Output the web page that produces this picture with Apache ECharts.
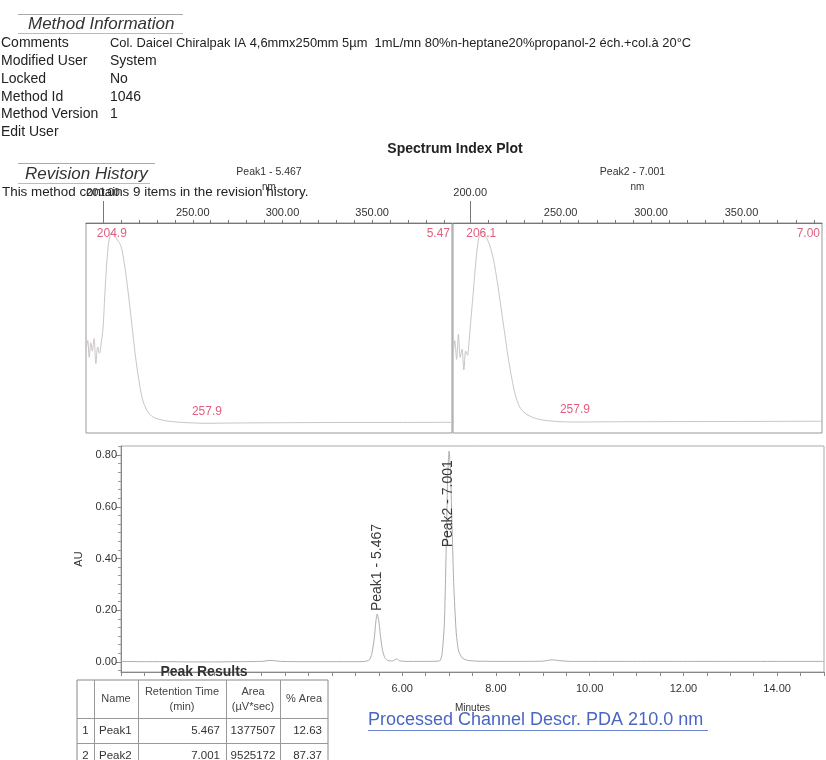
<!DOCTYPE html>
<html><head><meta charset="utf-8">
<script src="https://cdn.jsdelivr.net/npm/echarts@6/dist/echarts.min.js"></script>
<style>html,body{margin:0;padding:0;background:#fff}#c{width:826px;height:760px}</style>
</head><body><div id="c"></div>
<script>
// ---------------- data ----------------
const methodLabels = ['Comments', 'Modified User', 'Locked', 'Method Id', 'Method Version', 'Edit User'];
const methodValues = ['Col. Daicel Chiralpak IA 4,6mmx250mm 5µm  1mL/mn 80%n-heptane20%propanol-2 éch.+col.à 20°C', 'System', 'No', '1046', '1', ''];
const revisionText = 'This method contains 9 items in the revision history.';
const spectrumTitles = ['Peak1 - 5.467', 'Peak2 - 7.001'];
const spectrumCornerLabels = ['5.47', '7.00'];
// spectrum 1 (Peak1) [nm, relative absorbance]
const spectrum1 = [[190.6,0.40],[191.5,0.44],[192.3,0.36],[193.2,0.43],[194,0.39],[195,0.45],[196,0.33],[197,0.41],[198,0.38],[199,0.43],[200,0.50],[201,0.66],[202,0.80],[203,0.90],[204,0.945],[204.9,0.955],[206,0.95],[207,0.935],[208,0.92],[210,0.89],[212,0.80],[214,0.67],[216,0.52],[218,0.37],[220,0.25],[222,0.16],[224,0.115],[226,0.09],[228,0.075],[231,0.066],[235,0.058],[240,0.053],[245,0.05],[250,0.048],[257.9,0.046],[265,0.047],[280,0.048],[300,0.049],[330,0.05],[360,0.05],[394.5,0.051]];
const spectrum1Marks = [[204.9,0.955,'204.9'],[257.9,0.046,'257.9']];
// spectrum 2 (Peak2)
const spectrum2 = [[190.6,0.38],[191.5,0.44],[192.5,0.35],[193.5,0.47],[194.5,0.36],[195.5,0.40],[196.5,0.30],[197.5,0.39],[198.5,0.37],[199.5,0.45],[200.5,0.55],[202,0.70],[203.5,0.85],[205,0.94],[206.1,0.955],[207.5,0.95],[209,0.93],[211,0.89],[213,0.82],[215,0.72],[217,0.60],[219,0.48],[221,0.36],[223,0.26],[225,0.18],[227,0.13],[229,0.105],[232,0.085],[236,0.07],[240,0.062],[245,0.057],[250,0.054],[257.9,0.052],[270,0.053],[300,0.054],[350,0.055],[394.5,0.056]];
const spectrum2Marks = [[206.1,0.955,'206.1'],[257.9,0.052,'257.9']];
const nmLabels = [200, 250, 300, 350];
const nmLongTick = 200;
const nmTicks = [200,210,220,230,240,250,260,270,280,290,300,310,320,330,340,350,360,370,380,390];
// chromatogram [min, AU]
const chromData = [[0,0.002],[0.5,0.001],[1,0.001],[1.5,0.0],[2,0.0],[2.5,0.001],[3.0,0.002],[3.2,0.006],[3.4,0.002],[4,0.001],[4.5,0.001],[5.0,0.001],[5.2,0.002],[5.3,0.008],[5.35,0.03],[5.4,0.085],[5.44,0.16],[5.467,0.185],[5.5,0.16],[5.54,0.095],[5.58,0.045],[5.63,0.016],[5.7,0.005],[5.8,0.004],[5.88,0.012],[5.95,0.004],[6.1,0.002],[6.5,0.002],[6.8,0.004],[6.85,0.03],[6.9,0.15],[6.94,0.45],[6.97,0.72],[7.001,0.815],[7.03,0.74],[7.06,0.55],[7.1,0.30],[7.15,0.12],[7.2,0.045],[7.28,0.015],[7.4,0.006],[7.6,0.003],[8,0.002],[8.5,0.002],[9,0.003],[9.2,0.008],[9.35,0.005],[9.6,0.002],[10,0.002],[11,0.002],[12,0.002],[13,0.002],[14,0.002],[15,0.002]];
const peakNames = ['Peak1', 'Peak2'];
const peakRT = [5.467, 7.001];
const peakHeight = [0.185, 0.815];
const peakArea = [1377507, 9525172];
const peakPctArea = [12.63, 87.37];
const auLabels = [0, 0.2, 0.4, 0.6, 0.8];
const auMinorTicks = [-0.0333,0.0333,0.0667,0.1,0.1333,0.1667,0.2333,0.2667,0.3,0.3333,0.3667,0.4333,0.4667,0.5,0.5333,0.5667,0.6333,0.6667,0.7,0.7333,0.7667,0.8333];
const minuteLabels = [6, 8, 10, 12, 14];
const minuteTicks = [0,0.5,1,1.5,2,2.5,3,3.5,4,4.5,5,5.5,6,6.5,7,7.5,8,8.5,9,9.5,10,10.5,11,11.5,12,12.5,13,13.5,14,14.5,15];
const tableHeaders = ['', 'Name', 'Retention Time\n(min)', 'Area\n(µV*sec)', '% Area'];
const channelText = 'Processed Channel Descr. PDA 210.0 nm';

// ---------------- layout ----------------
const FONT = '"Liberation Sans", Arial, Helvetica, sans-serif';
const PINK = '#e0607e';
const SPEC_LINE = '#cbc4c8';
const G1 = {left: 86, top: 223, width: 366, height: 210};
const G2 = {left: 453, top: 223, width: 369, height: 210};
const G3 = {left: 121, top: 446, width: 703, height: 226};

const chart = echarts.init(document.getElementById('c'), null, {renderer: 'canvas', width: 826, height: 760});

const g = [];
function txt(text, x, y, size, o) {
  o = o || {};
  const font = (o.italic ? 'italic ' : '') + (o.bold ? 'bold ' : '') + size + 'px ' + FONT;
  g.push({type: 'text', z: o.z || 100, silent: true,
    style: {text: text, x: x, y: y, font: font, fill: o.color || '#222',
      align: o.align || 'left', textAlign: o.align || 'left',
      verticalAlign: o.va || 'middle', textVerticalAlign: o.va || 'middle',
      lineHeight: o.lh || size + 2}});
}
function ln(x1, y1, x2, y2, color, z) {
  g.push({type: 'line', z: z || 100, silent: true, shape: {x1: x1, y1: y1, x2: x2, y2: y2}, style: {stroke: color || '#999', lineWidth: 1}});
}
function rc(x, y, w, h, fill, stroke, z) {
  g.push({type: 'rect', z: z || 100, silent: true, shape: {x: x, y: y, width: w, height: h}, style: {fill: fill || 'none', stroke: stroke || 'none', lineWidth: 1}});
}

// header block
ln(18, 14.5, 183, 14.5, '#aaa');
txt('Method Information', 28, 24, 17, {italic: true, color: '#333'});
ln(18, 33.5, 183, 33.5, '#bbb');
methodLabels.forEach(function (l, i) {
  const y = 43 + i * 17.9;
  txt(l, 1, y, 14, {color: '#222'});
  txt(methodValues[i], 110, y, i === 0 ? 12.9 : 14, {color: '#222'});
});
txt('Spectrum Index Plot', G2.left + 2, 149, 14, {bold: true, align: 'center', color: '#222'});
ln(18, 163.5, 155, 163.5, '#aaa');
txt('Revision History', 25, 174, 17, {italic: true, color: '#333'});
ln(18, 183.5, 150, 183.5, '#bbb');
txt(revisionText, 2, 192, 13.4, {color: '#222'});
txt(spectrumTitles[0], G1.left + G1.width / 2, 172, 10.5, {align: 'center', color: '#333'});
txt(spectrumTitles[1], G2.left + G2.width / 2 - 5, 172, 10.5, {align: 'center', color: '#333'});
txt(spectrumCornerLabels[0], G1.left + G1.width - 2, G1.top + 11, 12, {align: 'right', color: PINK});
txt(spectrumCornerLabels[1], G2.left + G2.width - 2, G2.top + 11, 12, {align: 'right', color: PINK});

// Peak results table
const colX = [77, 94, 138, 226, 280, 328];
const rowY = [680, 718, 743, 768];
txt('Peak Results', 204, 672, 14, {bold: true, align: 'center', color: '#333', z: 121});
rc(colX[0], rowY[0], colX[5] - colX[0], rowY[3] - rowY[0], '#fff', '#888', 110);
colX.slice(1, 5).forEach(function (x) { ln(x + 0.5, rowY[0], x + 0.5, rowY[3], '#999', 111); });
rowY.slice(1, 3).forEach(function (y) { ln(colX[0], y + 0.5, colX[5], y + 0.5, '#999', 111); });
tableHeaders.forEach(function (h, c) {
  if (h) txt(h, (colX[c] + colX[c + 1]) / 2, (rowY[0] + rowY[1]) / 2, 11, {align: 'center', color: '#444', lh: 15, z: 120});
});
peakNames.forEach(function (n, r) {
  const y = (rowY[r + 1] + rowY[r + 2]) / 2;
  txt(String(r + 1), (colX[0] + colX[1]) / 2, y, 11.5, {align: 'center', color: '#333', z: 120});
  txt(n, colX[1] + 5, y, 11.5, {color: '#333', z: 120});
  txt(peakRT[r].toFixed(3), colX[3] - 6, y, 11.5, {align: 'right', color: '#333', z: 120});
  txt(String(peakArea[r]), (colX[3] + colX[4]) / 2, y, 11.5, {align: 'center', color: '#333', z: 120});
  txt(peakPctArea[r].toFixed(2), colX[5] - 6, y, 11.5, {align: 'right', color: '#333', z: 120});
});
// channel description
txt(channelText, 368, 720, 18, {color: '#4a66c4'});
ln(368, 730.5, 708, 730.5, '#6a82d0');

// ---------------- axes ----------------
function specX(gridIndex) {
  return {
    type: 'value', gridIndex: gridIndex, position: 'top', min: 190.5, max: 394.5,
    name: 'nm', nameLocation: 'middle', nameGap: 31, nameMoveOverlap: false,
    nameTextStyle: {fontSize: 10, color: '#333', fontFamily: FONT},
    axisLine: {show: true, onZero: false, lineStyle: {color: '#777'}},
    axisTick: {show: true, inside: false, length: 3, customValues: nmTicks, lineStyle: {color: '#777'}},
    axisLabel: {show: true, customValues: nmLabels, margin: 5, fontSize: 11, color: '#333', fontFamily: FONT,
      formatter: function (v) { return v === nmLongTick ? '{hi|' + v.toFixed(2) + '}' : v.toFixed(2); },
      rich: {hi: {fontSize: 11, color: '#333', fontFamily: FONT, padding: [0, 0, 20, 0]}}},
    splitLine: {show: false}
  };
}
const xAxes = [specX(0), specX(1), {
  type: 'value', gridIndex: 2, min: 0, max: 15,
  name: 'Minutes', nameLocation: 'middle', nameGap: 31, nameMoveOverlap: false,
  nameTextStyle: {fontSize: 10, color: '#333', fontFamily: FONT},
  axisLine: {show: true, onZero: false, lineStyle: {color: '#888'}},
  axisTick: {show: true, length: 4, customValues: minuteTicks, lineStyle: {color: '#888'}},
  axisLabel: {show: true, customValues: minuteLabels, margin: 11, fontSize: 11, color: '#333', fontFamily: FONT, formatter: function (v) { return v.toFixed(2); }},
  splitLine: {show: false}
}];
const yAxes = [
  {type: 'value', gridIndex: 0, min: 0, max: 1, show: false},
  {type: 'value', gridIndex: 1, min: 0, max: 1, show: false},
  {type: 'value', gridIndex: 2, min: -0.039, max: 0.835,
    name: 'AU', nameLocation: 'middle', nameGap: 37, nameMoveOverlap: false,
    nameTextStyle: {fontSize: 11, color: '#333', fontFamily: FONT},
    axisLine: {show: true, onZero: false, lineStyle: {color: '#888'}},
    axisTick: {show: true, length: 5, customValues: auLabels, lineStyle: {color: '#888'}},
    axisLabel: {show: true, customValues: auLabels, margin: 4, fontSize: 11, color: '#333', fontFamily: FONT, formatter: function (v) { return v.toFixed(2); }},
    splitLine: {show: false}},
  {type: 'value', gridIndex: 2, min: -0.039, max: 0.835, position: 'left',
    axisLine: {show: false, onZero: false},
    axisTick: {show: true, length: 3, customValues: auMinorTicks, lineStyle: {color: '#999'}},
    axisLabel: {show: false}, splitLine: {show: false}}
];

const HIDDEN_SYMBOL = {symbol: 'circle', symbolSize: 1, itemStyle: {color: 'rgba(0,0,0,0)'}};
function specMarks(marks) {
  return Object.assign({
    silent: true,
    label: {show: true, color: PINK, fontSize: 12, fontFamily: FONT},
    data: marks.map(function (m, i) {
      return {coord: [m[0], m[1]], value: m[2],
        label: {show: true, formatter: m[2], position: 'inside', offset: i === 0 ? [0, 1] : [0, -12]}};
    })
  }, HIDDEN_SYMBOL);
}

// rotated peak labels: offset is in the label's rotated frame ([along text, across text])
const peakMarkData = peakNames.map(function (n, i) {
  const tall = peakHeight[i] > 0.6;
  return {coord: [peakRT[i], peakHeight[i]],
    label: {show: true, formatter: n + ' - ' + peakRT[i].toFixed(3), rotate: 90,
      position: 'inside', align: tall ? 'right' : 'left', verticalAlign: 'middle',
      offset: tall ? [-9, -1] : [3, 0]}};
});

const option = {
  animation: false,
  backgroundColor: '#fff',
  textStyle: {fontFamily: FONT},
  grid: [
    Object.assign({show: true, borderColor: '#999', borderWidth: 1, containLabel: false}, G1),
    Object.assign({show: true, borderColor: '#999', borderWidth: 1, containLabel: false}, G2),
    Object.assign({show: true, borderColor: '#aaa', borderWidth: 1, containLabel: false}, G3)
  ],
  xAxis: xAxes,
  yAxis: yAxes,
  series: [
    {type: 'line', xAxisIndex: 0, yAxisIndex: 0, data: spectrum1, showSymbol: false, smooth: 0.3,
      lineStyle: {color: SPEC_LINE, width: 1}, markPoint: specMarks(spectrum1Marks)},
    {type: 'line', xAxisIndex: 1, yAxisIndex: 1, data: spectrum2, showSymbol: false, smooth: 0.3,
      lineStyle: {color: SPEC_LINE, width: 1}, markPoint: specMarks(spectrum2Marks)},
    {type: 'line', xAxisIndex: 2, yAxisIndex: 2, data: chromData, showSymbol: false, smooth: 0.2,
      lineStyle: {color: '#b0abae', width: 1},
      markPoint: Object.assign({silent: true,
        label: {show: true, color: '#3a3a3a', fontSize: 14, fontFamily: FONT}, data: peakMarkData}, HIDDEN_SYMBOL)}
  ],
  graphic: g
};
chart.setOption(option);

// long tick at 200 nm on each spectrum axis (position from the axis scale)
[0, 1].forEach(function (ai) {
  const G = ai === 0 ? G1 : G2;
  const px = Math.round(chart.convertToPixel({xAxisIndex: ai}, nmLongTick)) + 0.5;
  g.push({type: 'line', z: 100, silent: true, shape: {x1: px, y1: G.top - 22, x2: px, y2: G.top}, style: {stroke: '#777', lineWidth: 1}});
});
chart.setOption({graphic: g});
</script>
</body></html>
